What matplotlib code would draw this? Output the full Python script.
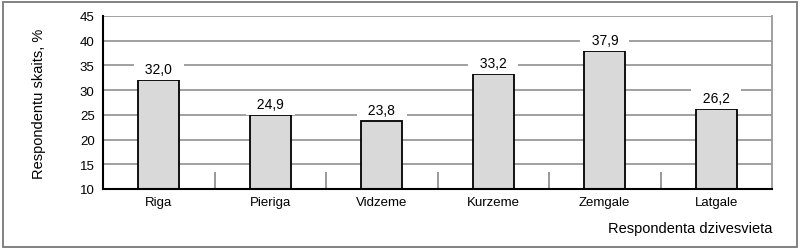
import numpy as np
import matplotlib.pyplot as plt
from matplotlib.patches import Rectangle

regions = ["Riga", "Pieriga", "Vidzeme", "Kurzeme", "Zemgale", "Latgale"]
values = [32.0, 24.9, 23.8, 33.2, 37.9, 26.2]
yticks = [10, 15, 20, 25, 30, 35, 40, 45]

plt.rcParams['font.family'] = ['Liberation Sans', 'DejaVu Sans']

fig = plt.figure(figsize=(8, 2.51), dpi=100)
ax = fig.add_axes([103 / 800, 1 - 190 / 251, 669 / 800, 173 / 251])

x = np.arange(len(regions))
ax.bar(x, values, width=0.37, bottom=0, color="#d9d9d9", edgecolor="black",
       linewidth=1.3, zorder=3)

for xi, v in zip(x, values):
    lbl = "  " + f"{v:.1f}".replace(".", ",") + "  "
    ax.text(xi, v + 2.2, lbl, ha="center", va="center",
            fontsize=10, zorder=4,
            bbox=dict(facecolor="white", edgecolor="none",
                      boxstyle="square,pad=0.25"))

ax.set_xlim(-0.5, len(regions) - 0.5)
ax.set_ylim(10, 45)
ax.set_yticks(yticks)
ax.set_yticklabels([str(t) for t in yticks], fontsize=9.5)
ax.set_xticks(x)
ax.set_xticklabels(regions, fontsize=9.5)
ax.tick_params(axis="x", length=0, pad=5)
ax.tick_params(axis="y", length=0, pad=6)

# category separators
ax.set_xticks(x[:-1] + 0.5, minor=True)
ax.tick_params(axis="x", which="minor", direction="in", length=12,
               color="#888888", width=1.2)

ax.yaxis.grid(True, color="#999999", linewidth=1.3, zorder=0)
ax.set_axisbelow(True)

for s in ["left", "bottom"]:
    ax.spines[s].set_linewidth(1.5)
    ax.spines[s].set_color("black")
    ax.spines[s].set_zorder(5)
ax.spines["top"].set_visible(False)
ax.spines["right"].set_color("#999999")
ax.spines["right"].set_linewidth(1.3)

ax.set_ylabel("Respondentu skaits, %", fontsize=10.5, labelpad=24)
fig.text(772 / 800, 1 - 229 / 251, "Respondenta dzivesvieta", ha="right",
         va="center", fontsize=10.5)

fig.patches.append(Rectangle((3 / 800, 3 / 251), 794 / 800, 245 / 251,
                             transform=fig.transFigure, fill=False,
                             edgecolor="#777777", linewidth=1.3))

fig.savefig("out.png", dpi=100)
